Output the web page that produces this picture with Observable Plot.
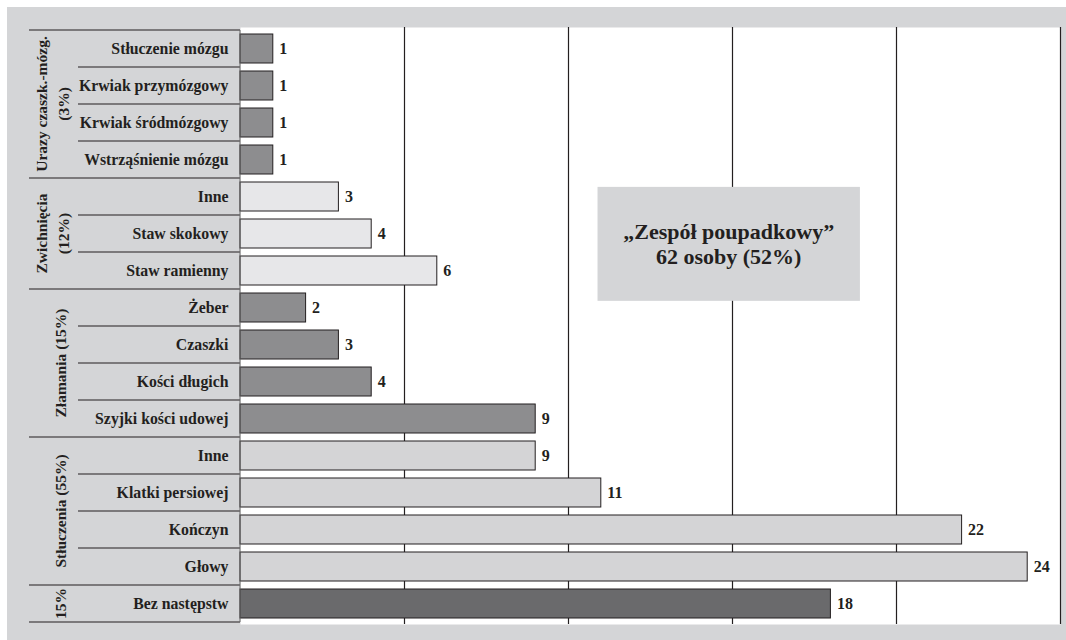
<!DOCTYPE html>
<html><head><meta charset="utf-8">
<script src="https://cdn.jsdelivr.net/npm/d3@7"></script>
<script src="https://cdn.jsdelivr.net/npm/@observablehq/plot@0.6"></script>
<style>
body{margin:0;background:#fff;}
#chart{position:absolute;left:7px;top:7px;}
</style></head><body><div id="chart"></div>
<script>
const labels = ["Stłuczenie mózgu","Krwiak przymózgowy","Krwiak śródmózgowy","Wstrząśnienie mózgu",
  "Inne","Staw skokowy","Staw ramienny",
  "Żeber","Czaszki","Kości długich","Szyjki kości udowej",
  "Inne","Klatki persiowej","Kończyn","Głowy",
  "Bez następstw"];
const values = [1,1,1,1, 3,4,6, 2,3,4,9, 9,11,22,24, 18];
const groupOf = [0,0,0,0, 1,1,1, 2,2,2,2, 3,3,3,3, 4];
const groupTitles = [["Urazy czaszk.-mózg.","(3%)"],["Zwichnięcia","(12%)"],["Złamania (15%)"],["Stłuczenia (55%)"],["15%"]];
const gridTicks = [5,10,15,20,25];
const noteLines = ["„Zespół poupadkowy”","62 osoby (52%)"];

(function(){
const rows = labels.map((label,i)=>({i,label,value:values[i],group:groupOf[i]}));
const fills = ["#8d8d8f","#e7e7e9","#8d8d8f","#d4d4d6","#6a6a6c"];
const bg = "#d4d5d7", ink = "#231f20";
const font = "'Liberation Serif', 'Times New Roman', serif";

const plot = Plot.plot({
  width:1059, height:633, marginLeft:233, marginTop:20, marginRight:6, marginBottom:16,
  style:{background:bg, fontFamily:font, color:ink, overflow:"visible"},
  x:{domain:[0,25], axis:null},
  y:{domain:d3.range(16), padding:0, label:null},
  color:{type:"identity"},
  marks:[
    Plot.frame({fill:"#fff", stroke:null}),
    Plot.ruleX(gridTicks, {stroke:ink, strokeWidth:1.2}),
    Plot.barX(rows, {x:"value", y:"i", fill:d=>fills[d.group], stroke:ink, strokeWidth:1, insetTop:4, insetBottom:4}),
    Plot.text(rows, {x:"value", y:"i", text:d=>String(d.value), dx:6, textAnchor:"start", fontWeight:"bold", fontSize:16, fill:ink}),
    Plot.axisY({tickSize:0, tickPadding:12, tickFormat:i=>labels[i], label:null, fontSize:15.8, fontWeight:"bold", fill:ink})
  ]
});
document.getElementById("chart").appendChild(plot);

const svg = d3.select(plot);
const ys = plot.scale("y"), xs = plot.scale("x");
const step = ys.step, yTop = ys.apply(0), yBot = ys.apply(15) + step;
const xL = xs.range[0];
const tbl = svg.append("g").attr("stroke", ink).attr("stroke-width", 1.2);
const starts = [];
groupOf.forEach((g,i)=>{ if(i===0 || groupOf[i-1]!==g) starts.push(i); });
starts.forEach(i=>{
  const yy = ys.apply(i);
  tbl.append("line").attr("x1",22).attr("x2",xL).attr("y1",yy).attr("y2",yy);
});
tbl.append("line").attr("x1",22).attr("x2",xL).attr("y1",yBot).attr("y2",yBot);
groupOf.forEach((g,i)=>{
  if(i>0 && groupOf[i-1]===g){
    const yy = ys.apply(i);
    tbl.append("line").attr("x1",71).attr("x2",xL).attr("y1",yy).attr("y2",yy);
  }
});
tbl.append("line").attr("x1",xL).attr("x2",xL).attr("y1",yTop).attr("y2",yBot).attr("stroke","#666").attr("stroke-width",1);

starts.forEach((s,gi)=>{
  const e = (starts[gi+1] ?? 16);
  const cy = (ys.apply(s) + ys.apply(e-1) + step)/2;
  const lines = groupTitles[gi];
  const cxs = lines.length===2 ? [34,56] : [53];
  lines.forEach((t,k)=>{
    svg.append("text").attr("transform",`translate(${cxs[k]},${cy}) rotate(-90)`)
      .attr("text-anchor","middle").attr("dominant-baseline","central")
      .attr("font-family",font).attr("font-weight","bold").attr("font-size",15.5)
      .attr("fill",ink).text(t);
  });
});

const bx1 = xs.apply(10.9), bx2 = xs.apply(18.9);
const by1 = ys.apply(4) + 0.24*step, by2 = ys.apply(7) + 0.32*step;
svg.append("rect").attr("x",bx1).attr("y",by1).attr("width",bx2-bx1).attr("height",by2-by1).attr("fill",bg);
noteLines.forEach((t,k)=>{
  svg.append("text").attr("x",(bx1+bx2)/2).attr("y",(by1+by2)/2 + (k-0.5)*25)
    .attr("text-anchor","middle").attr("dominant-baseline","central")
    .attr("font-family",font).attr("font-weight","bold").attr("font-size",22)
    .attr("fill",ink).text(t);
});
})();
</script></body></html>
